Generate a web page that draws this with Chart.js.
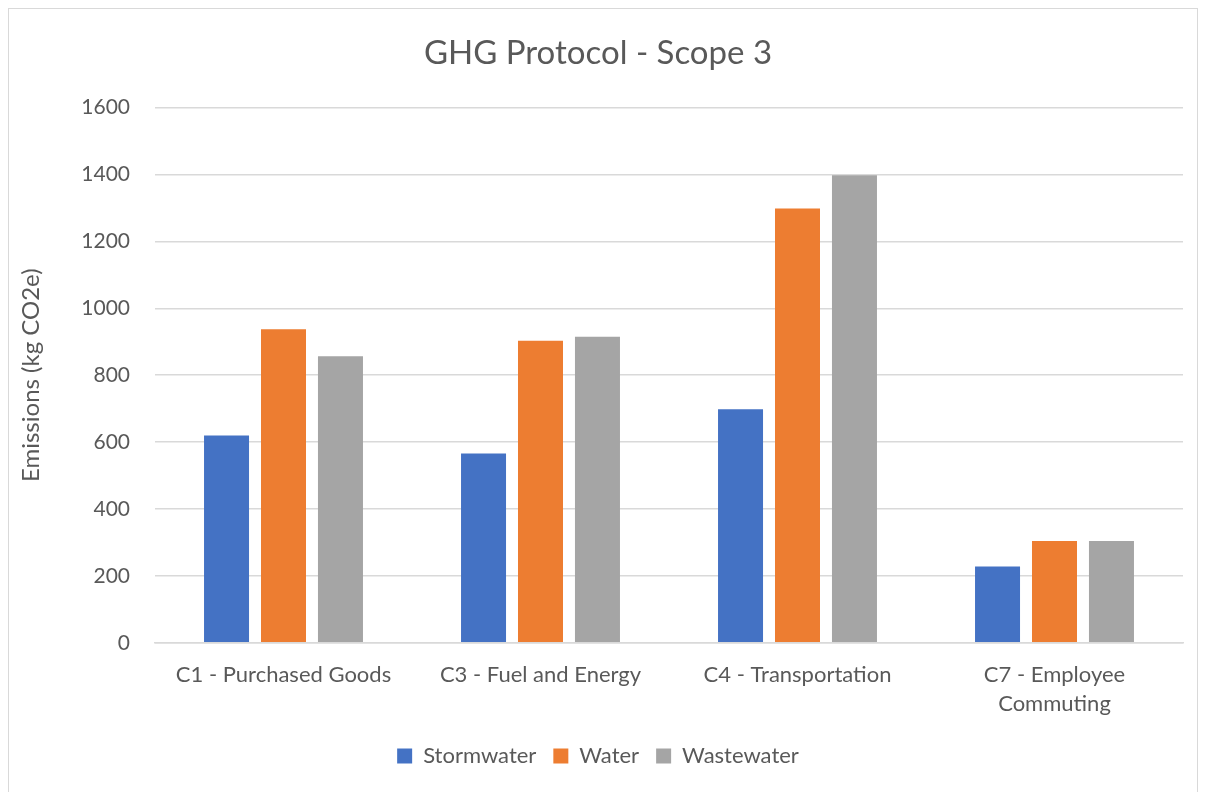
<!DOCTYPE html>
<html>
<head>
<meta charset="utf-8">
<script src="https://cdn.jsdelivr.net/npm/chart.js@4.4.1/dist/chart.umd.min.js"></script>
<style>
  body { margin: 0; background: #fff; }
  #box { position: absolute; left: 8px; top: 8px; width: 1190px; height: 790px; border: 1px solid #d9d9d9; box-sizing: border-box; }
</style>
</head>
<body>
<div id="box"><canvas id="ghgChart"></canvas></div>
<script>
// chart data
const categories = ['C1 - Purchased Goods', 'C3 - Fuel and Energy', 'C4 - Transportation', ['C7 - Employee', 'Commuting']];
const stormwater = [620, 566, 698, 228];
const water = [937, 903, 1298, 304];
const wastewater = [857, 915, 1398, 304];
const yTicks = [0, 200, 400, 600, 800, 1000, 1200, 1400, 1600];

const fontName = 'Lato, "Open Sans", sans-serif';
const grey = '#595959';

const ctx = document.getElementById('ghgChart');
const ghgChart = new Chart(ctx, {
    type: 'bar',
    data: {
        labels: categories,
        datasets: [
            { label: 'Stormwater', data: stormwater, backgroundColor: '#4472C4' },
            { label: 'Water', data: water, backgroundColor: '#ED7D31' },
            { label: 'Wastewater', data: wastewater, backgroundColor: '#A5A5A5' }
        ]
    },
    options: {
        responsive: true,
        maintainAspectRatio: false,
        animation: false,
        categoryPercentage: 0.665,
        barPercentage: 0.79,
        layout: { padding: { left: 4, right: 14, top: 11, bottom: 20 } },
        plugins: {
            title: {
                display: true,
                text: 'GHG Protocol - Scope 3',
                color: grey,
                font: { family: fontName, size: 33, weight: 'normal' },
                padding: { top: 14, bottom: 34 }
            },
            legend: {
                position: 'bottom',
                labels: {
                    color: grey,
                    font: { family: fontName, size: 22 },
                    boxWidth: 15,
                    boxHeight: 15,
                    padding: 17
                }
            },
            tooltip: { enabled: false }
        },
        scales: {
            x: {
                grid: { display: false },
                border: { color: '#d9d9d9', width: 1.5 },
                ticks: { color: grey, font: { family: fontName, size: 22, lineHeight: 1.3 }, maxRotation: 0, padding: 10 }
            },
            y: {
                min: 0,
                max: 1600,
                afterBuildTicks: (axis) => { axis.ticks = yTicks.map(v => ({ value: v })); },
                afterFit: (axis) => { axis.width = 142; },
                grid: { color: '#d9d9d9', lineWidth: 1.5, drawTicks: false },
                border: { display: false },
                ticks: { color: grey, font: { family: fontName, size: 21 }, padding: 25, callback: (v) => String(v) },
                title: {
                    display: true,
                    text: 'Emissions (kg CO2e)',
                    color: grey,
                    font: { family: fontName, size: 24 },
                    padding: { bottom: 2 }
                }
            }
        }
    }
});
</script>
</body>
</html>
